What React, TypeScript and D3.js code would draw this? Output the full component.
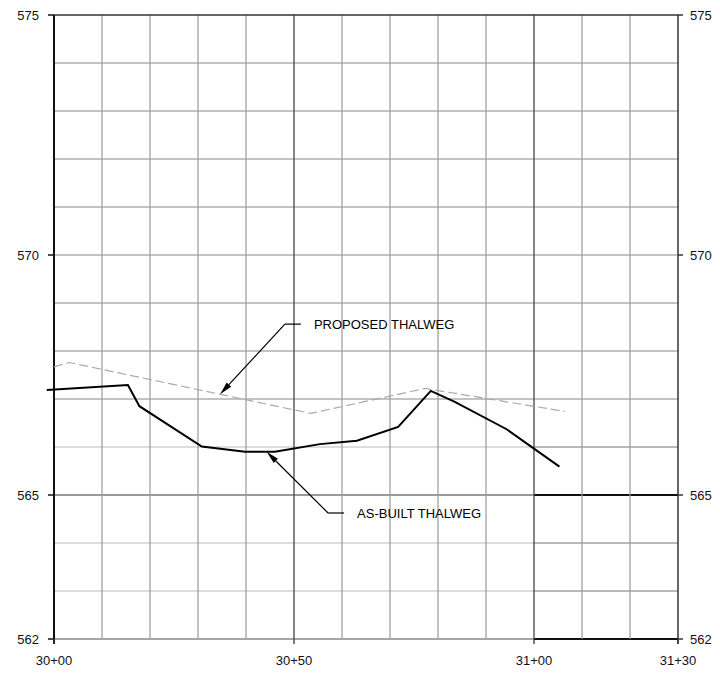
import React from "react";
import * as d3 from "d3";

// Stations (ft, 30+00 = 3000) and elevations (ft)
const asBuiltSta = [2998.5, 3015.4, 3017.8, 3030.8, 3039.8, 3046.0, 3055.4, 3063.1, 3071.7, 3078.5, 3083.5, 3094.3, 3105.3];
const asBuiltElev = [567.19, 567.29, 566.85, 566.01, 565.9, 565.9, 566.06, 566.13, 566.42, 567.17, 566.94, 566.37, 565.59];

const proposedSta = [3000, 3003.2, 3053.5, 3077.3, 3106.5];
const proposedElev = [567.67, 567.76, 566.7, 567.22, 566.74];

const xTicks = [3000, 3050, 3100, 3130];
const xTickLabels = ["30+00", "30+50", "31+00", "31+30"];
const yTicks = [575, 570, 565, 562];
const yTickLabels = ["575", "570", "565", "562"];

const gridStations = d3.range(3010, 3130, 10);
const gridElevs = d3.range(563, 575, 1);

// annotation anchors in data units: [tipSta, tipElev, elbowSta, elbowElev]
const proposedLabel = { text: "PROPOSED THALWEG", tip: [3034.6, 567.1], elbow: [3048.1, 568.56] };
const asBuiltLabel = { text: "AS-BUILT THALWEG", tip: [3044.3, 565.9], elbow: [3057.1, 564.625] };

const FONT = "'Liberation Sans', Arial, sans-serif";

export default function App() {
  const x = d3.scaleLinear().domain([3000, 3130]).range([54, 678]);
  const y = d3.scaleLinear().domain([562, 575]).range([639, 15]);
  const x0 = x(3000), x1 = x(3130), xSplit = x(3100);
  const yTop = y(575), yBot = y(562);

  const line = d3.line<[number, number]>().x((d) => x(d[0])).y((d) => y(d[1]));
  const asBuilt = asBuiltSta.map((s, i) => [s, asBuiltElev[i]] as [number, number]);
  const proposed = proposedSta.map((s, i) => [s, proposedElev[i]] as [number, number]);

  const leftColor = (e: number) => (e === 566 || e === 564 || e === 563 ? "#bbb" : "#888");
  const rightColor = (e: number) => (e === 566 || e === 564 || e === 563 ? "#777" : "#888");

  const annotation = (a: typeof proposedLabel, id: string) => {
    const tx = x(a.tip[0]), ty = y(a.tip[1]);
    const ex = x(a.elbow[0]), ey = y(a.elbow[1]);
    const ang = Math.atan2(ty - ey, tx - ex);
    const L = 13, W = 3;
    const bx = tx - L * Math.cos(ang), by = ty - L * Math.sin(ang);
    const px = -Math.sin(ang) * W, py = Math.cos(ang) * W;
    return (
      <g key={id}>
        <line x1={ex + 16} y1={ey} x2={ex} y2={ey} stroke="#000" strokeWidth={1.2} />
        <line x1={ex} y1={ey} x2={bx} y2={by} stroke="#000" strokeWidth={1.2} />
        <polygon points={`${tx},${ty} ${bx + px},${by + py} ${bx - px},${by - py}`} fill="#000" />
        <text x={ex + 29} y={ey + 4.5} fontSize={13} fontFamily={FONT} fill="#000">
          {a.text}
        </text>
      </g>
    );
  };

  return (
    <svg width={720} height={677} style={{ position: "absolute", left: 0, top: 0, background: "#fff" }}>
      <rect x={0} y={0} width={720} height={677} fill="#fff" />
      {/* horizontal grid */}
      {gridElevs.map((e) => (
        <g key={"h" + e}>
          <line x1={x0} x2={xSplit} y1={y(e)} y2={y(e)} stroke={e === 565 ? "#777" : leftColor(e)} strokeWidth={e === 565 ? 1.5 : 1.2} />
          {e === 565 ? (
            <line x1={xSplit} x2={x1} y1={y(e)} y2={y(e)} stroke="#111" strokeWidth={2} />
          ) : (
            <line x1={xSplit} x2={x1} y1={y(e)} y2={y(e)} stroke={rightColor(e)} strokeWidth={1.2} />
          )}
        </g>
      ))}
      {/* bottom line */}
      <line x1={x0} x2={xSplit} y1={yBot} y2={yBot} stroke="#888" strokeWidth={1.5} />
      <line x1={xSplit} x2={x1} y1={yBot} y2={yBot} stroke="#111" strokeWidth={2} />
      {/* vertical grid */}
      {gridStations.map((s) => (
        <line
          key={"v" + s}
          x1={x(s)}
          x2={x(s)}
          y1={yTop}
          y2={yBot}
          stroke={s === 3050 || s === 3100 ? "#444" : "#999"}
          strokeWidth={s === 3050 || s === 3100 ? 1.3 : 1.2}
        />
      ))}
      {/* top border */}
      <line x1={x0} x2={x1} y1={yTop} y2={yTop} stroke="#333" strokeWidth={1.3} />
      {/* left / right axes */}
      <line x1={x0} x2={x0} y1={yTop} y2={yBot + 5} stroke="#111" strokeWidth={2} />
      <line x1={x1} x2={x1} y1={yTop} y2={yBot + 5} stroke="#333" strokeWidth={1.5} />
      {/* y ticks and labels */}
      {yTicks.map((t, i) => (
        <g key={"yt" + t}>
          <line x1={x0 - 6} x2={x0} y1={y(t)} y2={y(t)} stroke="#111" strokeWidth={1.5} />
          <line x1={x1} x2={x1 + 5} y1={y(t)} y2={y(t)} stroke="#333" strokeWidth={1.5} />
          <text x={x0 - 15} y={y(t) + 4.5} textAnchor="end" fontSize={13} fontFamily={FONT} fill="#111">
            {yTickLabels[i]}
          </text>
          <text x={x1 + 12} y={y(t) + 4.5} textAnchor="start" fontSize={13} fontFamily={FONT} fill="#111">
            {yTickLabels[i]}
          </text>
        </g>
      ))}
      {/* x ticks and labels */}
      {xTicks.map((t, i) => (
        <g key={"xt" + t}>
          <line x1={x(t)} x2={x(t)} y1={yBot} y2={yBot + 5} stroke="#333" strokeWidth={1.3} />
          <text x={x(t)} y={y(562) + 26} textAnchor="middle" fontSize={13} fontFamily={FONT} fill="#111">
            {xTickLabels[i]}
          </text>
        </g>
      ))}
      {/* proposed thalweg */}
      <path d={line(proposed) || ""} fill="none" stroke="#aaa" strokeWidth={1.2} strokeDasharray="9,4" />
      {/* as-built thalweg */}
      <path d={line(asBuilt) || ""} fill="none" stroke="#000" strokeWidth={2} strokeLinejoin="miter" />
      {annotation(proposedLabel, "p")}
      {annotation(asBuiltLabel, "a")}
    </svg>
  );
}
